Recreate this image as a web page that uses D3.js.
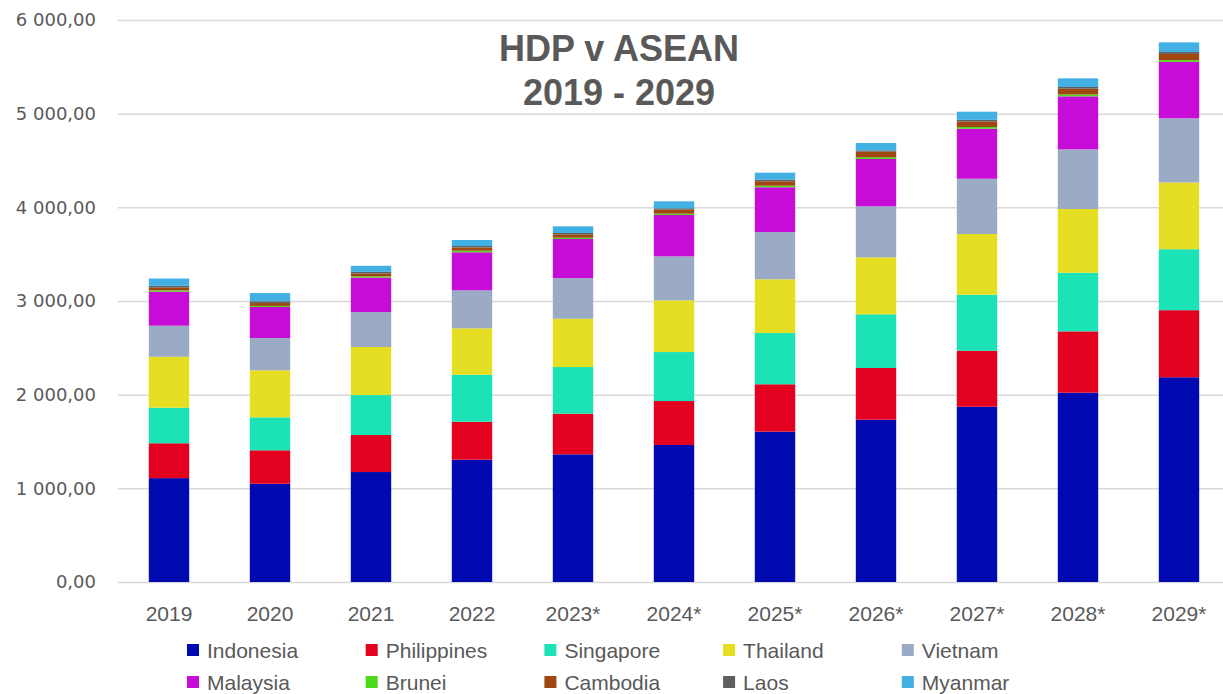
<!DOCTYPE html>
<html>
<head>
<meta charset="utf-8">
<script src="https://cdn.jsdelivr.net/npm/d3@7"></script>
<style>
  body { margin: 0; background: #fff; }
  #viz { width: 1223px; height: 694px; }
</style>
</head>
<body>
<div id="viz"></div>
<script>
// years on the x axis (* = forecast)
var years = ['2019', '2020', '2021', '2022', '2023*', '2024*', '2025*', '2026*', '2027*', '2028*', '2029*'];

// GDP per country
var indonesia   = [1109, 1049, 1174, 1306, 1363, 1463, 1605, 1733, 1871, 2021, 2186];
var philippines = [372, 357, 395, 405, 434, 469, 506, 552, 598, 655, 716];
var singapore   = [380, 352, 427, 502, 498, 523, 547, 573, 598, 626, 651];
var thailand    = [544, 502, 513, 495, 516, 552, 574, 608, 648, 680, 712];
var vietnam     = [331, 345, 373, 406, 434, 470, 505, 545, 590, 637, 686];
var malaysia    = [363, 331, 367, 406, 417, 441, 477, 505, 534, 566, 602];
var brunei      = [14, 12, 14, 17, 14, 14, 17, 18, 19, 20, 19];
var cambodia    = [30, 30, 30, 34, 36, 43, 47, 60, 58, 62, 66];
var laos        = [19, 19, 18, 16, 14, 15, 17, 14, 18, 18, 20];
var myanmar     = [78, 88, 65, 64, 71, 74, 75, 79, 87, 92, 103];

var countries = ['Indonesia', 'Philippines', 'Singapore', 'Thailand', 'Vietnam',
                 'Malaysia', 'Brunei', 'Cambodia', 'Laos', 'Myanmar'];
var seriesValues = [indonesia, philippines, singapore, thailand, vietnam,
                    malaysia, brunei, cambodia, laos, myanmar];
var colors = ['#000ab0', '#e4001f', '#1ce3b5', '#e6de22', '#9babc6',
              '#c80cd7', '#4cd91a', '#a0460f', '#5f5f5f', '#42b0e3'];
var yTicks = [0, 1000, 2000, 3000, 4000, 5000, 6000];

var width = 1223, height = 694;
var textColor = '#595959';

var svg = d3.select('#viz').append('svg')
    .attr('width', width)
    .attr('height', height);

var rows = years.map(function (y, i) {
    var r = { year: y };
    countries.forEach(function (c, k) { r[c] = seriesValues[k][i]; });
    return r;
});

var stack = d3.stack().keys(countries)(rows);

var xScale = d3.scaleBand()
    .domain(years)
    .range([118.5, 1229.5])
    .paddingInner(0.6)
    .paddingOuter(0.3);

var yScale = d3.scaleLinear()
    .domain([0, 6000])
    .range([582, 20]);

var locale = d3.formatLocale({ decimal: ',', thousands: ' ', grouping: [3], currency: ['', ''] });
var fmt = locale.format(',.2f');

// gridlines + y labels
var yAxis = svg.append('g')
    .attr('transform', 'translate(118,0)')
    .call(d3.axisLeft(yScale).tickValues(yTicks).tickFormat(fmt)
        .tickSize(-(width - 118)).tickPadding(22));
yAxis.select('.domain').remove();
yAxis.selectAll('line').attr('stroke', '#d9d9d9').attr('stroke-width', 1.5);
yAxis.selectAll('text')
    .attr('fill', textColor)
    .style('font-family', '"DejaVu Sans", sans-serif')
    .style('font-size', '18px');

// bars
svg.append('g').selectAll('g')
    .data(stack)
    .enter().append('g')
    .attr('fill', function (d, i) { return colors[i]; })
    .selectAll('rect')
    .data(function (d) { return d; })
    .enter().append('rect')
    .attr('x', function (d) { return xScale(d.data.year); })
    .attr('width', xScale.bandwidth())
    .attr('y', function (d) { return yScale(d[1]); })
    .attr('height', function (d) { return yScale(d[0]) - yScale(d[1]); });

// x labels
var xAxis = svg.append('g')
    .attr('transform', 'translate(0,582)')
    .call(d3.axisBottom(xScale).tickSize(0).tickPadding(24));
xAxis.select('.domain').remove();
xAxis.selectAll('text')
    .attr('fill', textColor)
    .style('font-family', '"Liberation Sans", Arial, sans-serif')
    .style('font-size', '21px');

// title
var title = svg.append('g')
    .attr('fill', textColor)
    .style('font-family', '"Liberation Sans", Arial, sans-serif')
    .style('font-size', '36px')
    .style('font-weight', 'bold')
    .attr('text-anchor', 'middle');
title.append('text').attr('x', 619).attr('y', 61).text('HDP v ASEAN');
title.append('text').attr('x', 619).attr('y', 105).text('2019 - 2029');

// legend
var legend = svg.append('g')
    .style('font-family', '"Liberation Sans", Arial, sans-serif')
    .style('font-size', '21px');

var item = legend.selectAll('g')
    .data(countries)
    .enter().append('g')
    .attr('transform', function (d, i) {
        return 'translate(' + (187 + (i % 5) * 178.7) + ',' + (650 + Math.floor(i / 5) * 32) + ')';
    });
item.append('rect')
    .attr('x', 0).attr('y', -6)
    .attr('width', 12).attr('height', 12)
    .attr('fill', function (d, i) { return colors[i]; });
item.append('text')
    .attr('x', 20).attr('y', 8)
    .attr('fill', textColor)
    .text(function (d) { return d; });
</script>
</body>
</html>
